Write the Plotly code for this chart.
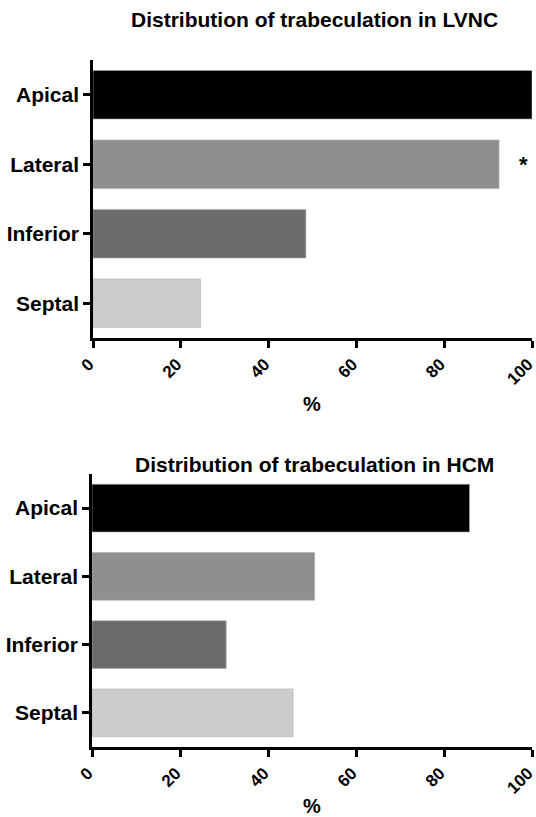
import plotly.graph_objects as go

# Regions and percentage of patients with trabeculation in each
regions = ["Apical", "Lateral", "Inferior", "Septal"]
lvnc_pct = [100, 92.5, 48.5, 24.5]
hcm_pct = [85.8, 50.6, 30.5, 45.7]
bar_colors = ["#000000", "#8f8f8f", "#6b6b6b", "#cccccc"]
x_ticks = [0, 20, 40, 60, 80, 100]

titles = ["Distribution of trabeculation in LVNC", "Distribution of trabeculation in HCM"]
W, H = 536, 817
FONT = "Liberation Sans, Arial, sans-serif"

fig = go.Figure()
fig.add_trace(go.Bar(x=lvnc_pct, y=regions, orientation="h", width=0.7,
                     marker=dict(color=bar_colors, line=dict(color="#b0b0b0", width=0.6)),
                     xaxis="x", yaxis="y", showlegend=False))
fig.add_trace(go.Bar(x=hcm_pct, y=regions, orientation="h", width=0.7,
                     marker=dict(color=bar_colors, line=dict(color="#b0b0b0", width=0.6)),
                     xaxis="x2", yaxis="y2", showlegend=False))

def px_y(top, bottom):
    return [1 - bottom / H, 1 - top / H]

xaxis_style = dict(range=[0, 100], tickvals=x_ticks, tickangle=-45,
                   automargin=False, ticklabeloverflow="allow", ticklabelshift=-4,
                   showline=True, linecolor="black", linewidth=2.5,
                   ticks="outside", ticklen=7, tickwidth=2.5, tickcolor="black",
                   showgrid=False, zeroline=False,
                   tickfont=dict(family=FONT, size=17, color="black", weight="bold"))
yaxis_style = dict(categoryorder="array", categoryarray=regions[::-1],
                   automargin=False,
                   showline=True, linecolor="black", linewidth=2.5,
                   ticks="outside", ticklen=7, tickwidth=2.5, tickcolor="black",
                   showgrid=False, zeroline=False,
                   tickfont=dict(family=FONT, size=21, color="black", weight="bold"))

fig.update_layout(
    width=W, height=H,
    margin=dict(l=0, r=0, t=0, b=0),
    paper_bgcolor="white", plot_bgcolor="white",
    xaxis=dict(domain=[93 / W, 532 / W], anchor="y", **xaxis_style),
    yaxis=dict(domain=px_y(60, 338), anchor="x", **yaxis_style),
    xaxis2=dict(domain=[92 / W, 532 / W], anchor="y2", **xaxis_style),
    yaxis2=dict(domain=px_y(474, 747), anchor="x2", **yaxis_style),
)

title_font = dict(family=FONT, size=21, color="black", weight="bold")
label_font = dict(family=FONT, size=20, color="black", weight="bold")
for txt, yc in zip(titles, [20, 464]):
    fig.add_annotation(text=txt, xref="paper", yref="paper", x=314 / W, y=1 - yc / H,
                       xanchor="center", yanchor="middle", showarrow=False, font=title_font)
for yc in [404, 806]:
    fig.add_annotation(text="%", xref="paper", yref="paper", x=312 / W, y=1 - yc / H,
                       xanchor="center", yanchor="middle", showarrow=False, font=label_font)

# significance marker next to the LVNC lateral bar
fig.add_annotation(text="*", x=98, y="Lateral", xref="x", yref="y",
                   xanchor="center", yanchor="middle", showarrow=False,
                   font=dict(family=FONT, size=22, color="black", weight="bold"))

fig.write_html("out.html")
